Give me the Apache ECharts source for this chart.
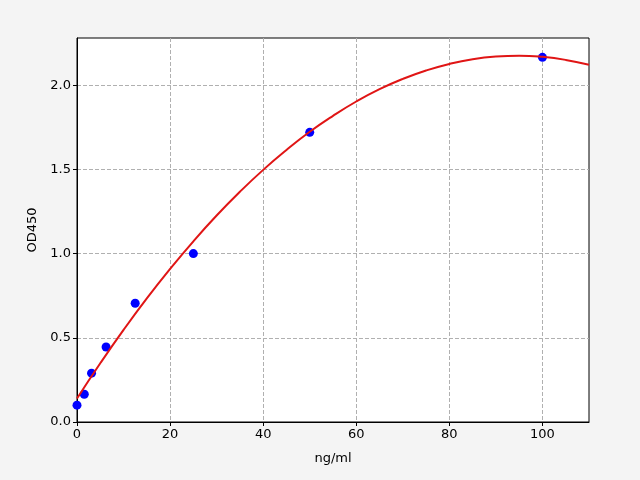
<!DOCTYPE html>
<html>
<head>
<meta charset="utf-8">
<script src="https://cdn.jsdelivr.net/npm/echarts@6/dist/echarts.min.js"></script>
<style>
html,body{margin:0;padding:0;background:#f4f4f4;}
#c{width:640px;height:480px;}
</style>
</head>
<body>
<div id="c"></div>
<script>
// Measured standards
const concentrations = [0, 1.5625, 3.125, 6.25, 12.5, 25, 50, 100];
const odValues = [0.10, 0.165, 0.29, 0.445, 0.705, 1.00, 1.72, 2.165];
// Fitted curve
const curveX = [0,5,10,15,20,25,30,35,40,45,50,55,60,65,70,75,80,85,90,95,100,105,110];
const curveY = [0.140,0.349,0.547,0.734,0.909,1.073,1.226,1.367,1.497,1.615,1.723,1.818,1.903,1.976,2.037,2.087,2.126,2.154,2.170,2.175,2.168,2.150,2.121];
const xTicks = [0, 20, 40, 60, 80, 100];
const yTicks = [0.0, 0.5, 1.0, 1.5, 2.0];

const chart = echarts.init(document.getElementById('c'));
const font = 'DejaVu Sans';
chart.setOption({
  backgroundColor: '#f4f4f4',
  animation: false,
  grid: {left: 77, right: 51, top: 38, bottom: 58, show: true, backgroundColor: '#ffffff', borderColor: '#000', borderWidth: 1, z: 0},
  xAxis: {
    type: 'value', min: 0, max: 110, interval: 20,
    name: 'ng/ml', nameLocation: 'middle', nameGap: 30,
    nameTextStyle: {color: '#000', fontSize: 13, fontFamily: font},
    axisLine: {show: true, onZero: false, lineStyle: {color: '#000'}},
    axisTick: {show: true, length: 4, lineStyle: {color: '#000'}},
    axisLabel: {color: '#000', fontSize: 13, fontFamily: font, margin: 6, showMaxLabel: false,
      formatter: v => xTicks.includes(v) ? String(v) : ''},
    splitLine: {show: true, showMinLine: false, showMaxLine: false, lineStyle: {color: '#b0b0b0', type: [4, 2], width: 1}}
  },
  yAxis: {
    type: 'value', min: 0, max: 2.28, interval: 0.5,
    name: 'OD450', nameLocation: 'middle', nameGap: 38, nameRotate: 90,
    nameTextStyle: {color: '#000', fontSize: 13, fontFamily: font},
    axisLine: {show: true, lineStyle: {color: '#000'}},
    axisTick: {show: true, length: 4, lineStyle: {color: '#000'}},
    axisLabel: {color: '#000', fontSize: 13, fontFamily: font, margin: 6, showMaxLabel: false,
      formatter: v => yTicks.includes(v) ? v.toFixed(1) : ''},
    splitLine: {show: true, showMinLine: false, showMaxLine: false, lineStyle: {color: '#b0b0b0', type: [4, 2], width: 1}}
  },
  series: [
    {
      type: 'scatter', z: 2,
      data: concentrations.map((x, i) => [x, odValues[i]]),
      symbol: 'circle', symbolSize: 9,
      itemStyle: {color: '#0000ff', opacity: 1}
    },
    {
      type: 'line', z: 3, smooth: true, showSymbol: false,
      data: curveX.map((x, i) => [x, curveY[i]]),
      lineStyle: {color: '#e01515', width: 2}
    }
  ]
});
</script>
</body>
</html>
